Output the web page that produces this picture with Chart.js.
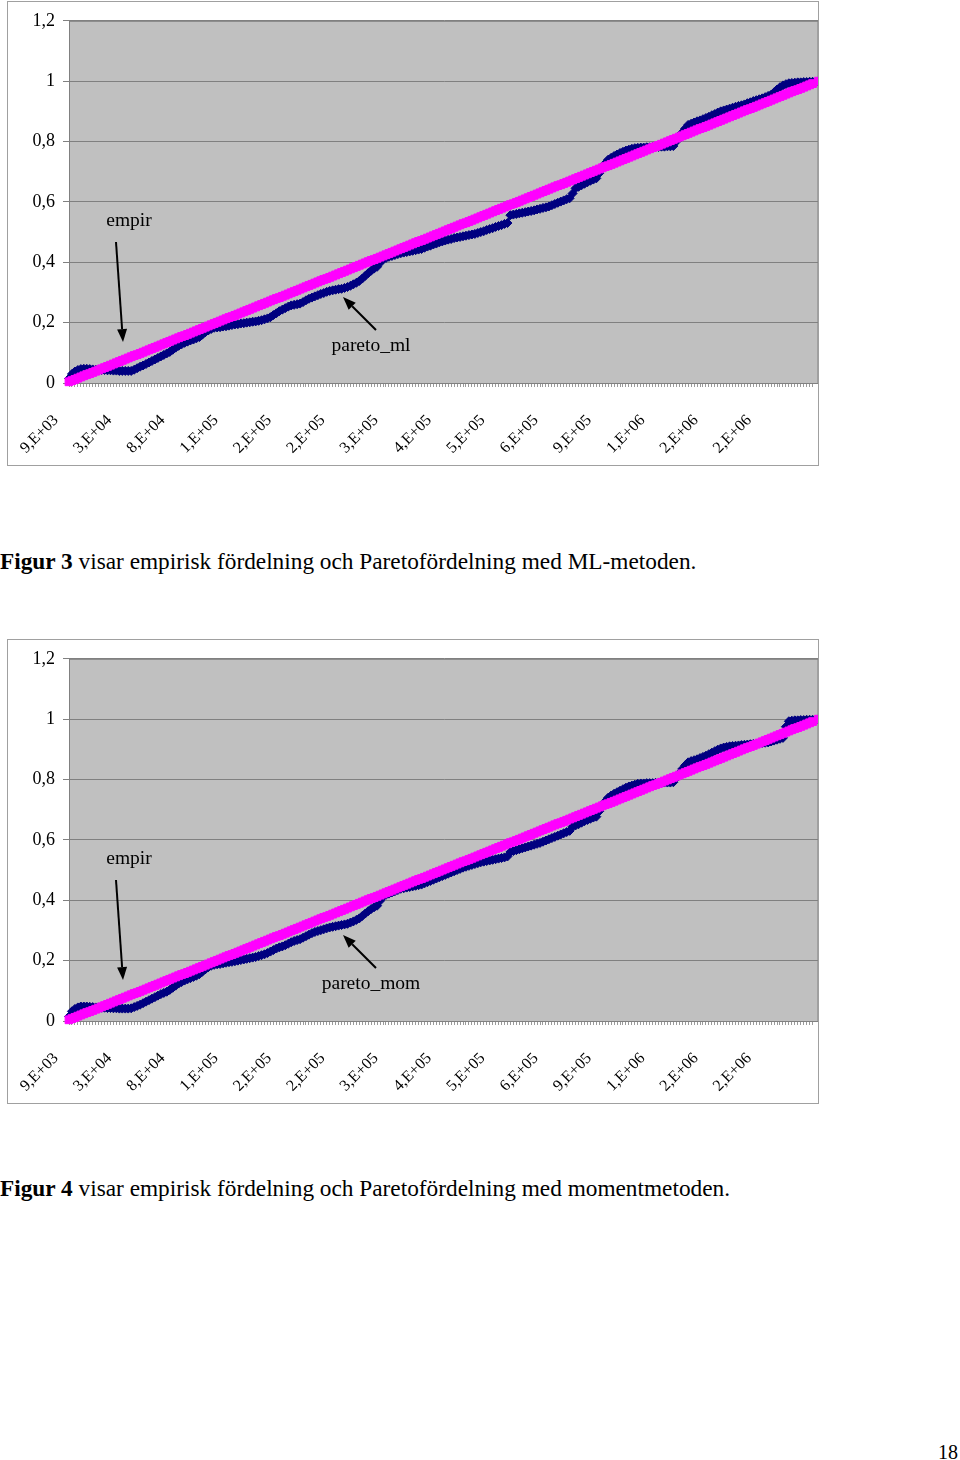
<!DOCTYPE html>
<html>
<head>
<meta charset="utf-8">
<script src="https://cdn.jsdelivr.net/npm/chart.js@4.4.0/dist/chart.umd.min.js"></script>
<style>
body { margin: 0; background: #fff; width: 960px; height: 1460px; position: relative; overflow: hidden;
       font-family: "Liberation Serif", "Times New Roman", serif; }
.frame { position: absolute; left: 7px; width: 810px; height: 463px; border: 1px solid #a0a0a0; overflow: hidden; }
.frame canvas { display: block; }
.caption { position: absolute; left: 0; font-size: 23.3px; white-space: nowrap; line-height: 26px; }
.pageno { position: absolute; left: 938px; top: 1440px; font-size: 20px; line-height: 24px; }
</style>
</head>
<body>
<div class="frame" style="top:1px"><canvas id="chart1" width="817" height="463"></canvas></div>
<div class="caption" style="top:548px"><b>Figur 3</b> visar empirisk fördelning och Paretofördelning med ML-metoden.</div>
<div class="frame" style="top:639px"><canvas id="chart2" width="817" height="463"></canvas></div>
<div class="caption" style="top:1175px"><b>Figur 4</b> visar empirisk fördelning och Paretofördelning med momentmetoden.</div>
<div class="pageno">18</div>
<script>
// category axis: 254 sorted observations, a label every 18th
const xTickLabels = ['9,E+03', '3,E+04', '8,E+04', '1,E+05', '2,E+05', '2,E+05', '3,E+05',
                     '4,E+05', '5,E+05', '6,E+05', '9,E+05', '1,E+06', '2,E+06', '2,E+06'];
const labelStep = 18;
const yTickLabels = ['0', '0,2', '0,4', '0,6', '0,8', '1', '1,2'];

// empirical distribution (pink)
const empir = [
  0.004, 0.008, 0.012, 0.016, 0.020, 0.024, 0.028, 0.031, 0.035, 0.039,
  0.043, 0.047, 0.051, 0.055, 0.059, 0.063, 0.067, 0.071, 0.075, 0.079,
  0.083, 0.087, 0.091, 0.094, 0.098, 0.102, 0.106, 0.110, 0.114, 0.118,
  0.122, 0.126, 0.130, 0.134, 0.138, 0.142, 0.146, 0.150, 0.154, 0.157,
  0.161, 0.165, 0.169, 0.173, 0.177, 0.181, 0.185, 0.189, 0.193, 0.197,
  0.201, 0.205, 0.209, 0.213, 0.217, 0.220, 0.224, 0.228, 0.232, 0.236,
  0.240, 0.244, 0.248, 0.252, 0.256, 0.260, 0.264, 0.268, 0.272, 0.276,
  0.280, 0.283, 0.287, 0.291, 0.295, 0.299, 0.303, 0.307, 0.311, 0.315,
  0.319, 0.323, 0.327, 0.331, 0.335, 0.339, 0.343, 0.346, 0.350, 0.354,
  0.358, 0.362, 0.366, 0.370, 0.374, 0.378, 0.382, 0.386, 0.390, 0.394,
  0.398, 0.402, 0.406, 0.409, 0.413, 0.417, 0.421, 0.425, 0.429, 0.433,
  0.437, 0.441, 0.445, 0.449, 0.453, 0.457, 0.461, 0.465, 0.469, 0.472,
  0.476, 0.480, 0.484, 0.488, 0.492, 0.496, 0.500, 0.504, 0.508, 0.512,
  0.516, 0.520, 0.524, 0.528, 0.531, 0.535, 0.539, 0.543, 0.547, 0.551,
  0.555, 0.559, 0.563, 0.567, 0.571, 0.575, 0.579, 0.583, 0.587, 0.591,
  0.594, 0.598, 0.602, 0.606, 0.610, 0.614, 0.618, 0.622, 0.626, 0.630,
  0.634, 0.638, 0.642, 0.646, 0.650, 0.654, 0.657, 0.661, 0.665, 0.669,
  0.673, 0.677, 0.681, 0.685, 0.689, 0.693, 0.697, 0.701, 0.705, 0.709,
  0.713, 0.717, 0.720, 0.724, 0.728, 0.732, 0.736, 0.740, 0.744, 0.748,
  0.752, 0.756, 0.760, 0.764, 0.768, 0.772, 0.776, 0.780, 0.783, 0.787,
  0.791, 0.795, 0.799, 0.803, 0.807, 0.811, 0.815, 0.819, 0.823, 0.827,
  0.831, 0.835, 0.839, 0.843, 0.846, 0.850, 0.854, 0.858, 0.862, 0.866,
  0.870, 0.874, 0.878, 0.882, 0.886, 0.890, 0.894, 0.898, 0.902, 0.906,
  0.909, 0.913, 0.917, 0.921, 0.925, 0.929, 0.933, 0.937, 0.941, 0.945,
  0.949, 0.953, 0.957, 0.961, 0.965, 0.969, 0.972, 0.976, 0.980, 0.984,
  0.988, 0.992, 0.996, 1.000
];

// Pareto fitted with ML (dark blue, figure 3)
const paretoMl = [
  0.015, 0.030, 0.038, 0.043, 0.046, 0.047, 0.047, 0.046, 0.045, 0.044,
  0.044, 0.043, 0.043, 0.042, 0.042, 0.041, 0.041, 0.040, 0.040, 0.040,
  0.040, 0.040, 0.044, 0.049, 0.054, 0.058, 0.063, 0.068, 0.073, 0.078,
  0.083, 0.088, 0.093, 0.098, 0.103, 0.110, 0.117, 0.123, 0.128, 0.133,
  0.137, 0.141, 0.144, 0.148, 0.152, 0.160, 0.168, 0.174, 0.179, 0.183,
  0.184, 0.185, 0.187, 0.188, 0.190, 0.192, 0.194, 0.195, 0.197, 0.198,
  0.200, 0.201, 0.203, 0.204, 0.206, 0.208, 0.211, 0.214, 0.218, 0.225,
  0.231, 0.238, 0.243, 0.248, 0.253, 0.257, 0.259, 0.261, 0.263, 0.268,
  0.274, 0.279, 0.283, 0.287, 0.291, 0.295, 0.298, 0.302, 0.305, 0.307,
  0.309, 0.311, 0.312, 0.315, 0.318, 0.322, 0.327, 0.332, 0.338, 0.346,
  0.355, 0.364, 0.372, 0.379, 0.385, 0.398, 0.410, 0.414, 0.418, 0.421,
  0.424, 0.427, 0.430, 0.432, 0.434, 0.436, 0.438, 0.440, 0.442, 0.444,
  0.448, 0.452, 0.455, 0.459, 0.462, 0.466, 0.469, 0.472, 0.475, 0.477,
  0.480, 0.482, 0.484, 0.486, 0.488, 0.490, 0.492, 0.494, 0.497, 0.500,
  0.503, 0.507, 0.510, 0.513, 0.517, 0.520, 0.523, 0.527, 0.530, 0.556,
  0.558, 0.560, 0.562, 0.564, 0.566, 0.568, 0.570, 0.572, 0.575, 0.577,
  0.580, 0.582, 0.585, 0.589, 0.593, 0.597, 0.601, 0.605, 0.609, 0.612,
  0.628, 0.645, 0.650, 0.655, 0.660, 0.665, 0.670, 0.674, 0.678, 0.695,
  0.712, 0.728, 0.740, 0.746, 0.752, 0.757, 0.762, 0.766, 0.770, 0.773,
  0.776, 0.778, 0.779, 0.780, 0.780, 0.781, 0.781, 0.782, 0.782, 0.782,
  0.783, 0.783, 0.784, 0.784, 0.785, 0.800, 0.815, 0.830, 0.843, 0.855,
  0.859, 0.863, 0.867, 0.870, 0.874, 0.878, 0.882, 0.887, 0.891, 0.896,
  0.900, 0.903, 0.906, 0.909, 0.912, 0.915, 0.918, 0.920, 0.923, 0.927,
  0.930, 0.934, 0.937, 0.940, 0.943, 0.947, 0.951, 0.955, 0.963, 0.972,
  0.980, 0.986, 0.990, 0.993, 0.994, 0.995, 0.996, 0.996, 0.997, 0.997,
  0.998, 0.998, 0.999, 0.999
];

// Pareto fitted with moments (dark blue, figure 4)
const paretoMom = [
  0.015, 0.032, 0.040, 0.045, 0.048, 0.048, 0.048, 0.047, 0.046, 0.045,
  0.045, 0.044, 0.044, 0.043, 0.043, 0.042, 0.042, 0.041, 0.041, 0.041,
  0.041, 0.042, 0.046, 0.050, 0.054, 0.059, 0.064, 0.069, 0.074, 0.079,
  0.084, 0.089, 0.093, 0.097, 0.103, 0.110, 0.117, 0.124, 0.129, 0.134,
  0.138, 0.142, 0.146, 0.150, 0.155, 0.163, 0.171, 0.178, 0.183, 0.186,
  0.188, 0.189, 0.191, 0.193, 0.195, 0.196, 0.198, 0.200, 0.202, 0.204,
  0.206, 0.208, 0.210, 0.212, 0.215, 0.218, 0.221, 0.225, 0.230, 0.235,
  0.240, 0.244, 0.247, 0.251, 0.256, 0.261, 0.265, 0.268, 0.271, 0.276,
  0.281, 0.286, 0.291, 0.295, 0.298, 0.301, 0.304, 0.307, 0.310, 0.312,
  0.314, 0.316, 0.318, 0.320, 0.322, 0.326, 0.330, 0.335, 0.340, 0.348,
  0.356, 0.364, 0.371, 0.377, 0.382, 0.398, 0.412, 0.418, 0.422, 0.426,
  0.430, 0.434, 0.438, 0.440, 0.442, 0.444, 0.446, 0.448, 0.450, 0.452,
  0.456, 0.460, 0.464, 0.468, 0.472, 0.476, 0.480, 0.484, 0.488, 0.492,
  0.496, 0.500, 0.504, 0.508, 0.511, 0.514, 0.517, 0.520, 0.523, 0.526,
  0.528, 0.530, 0.532, 0.534, 0.536, 0.538, 0.540, 0.542, 0.545, 0.560,
  0.563, 0.566, 0.569, 0.572, 0.575, 0.578, 0.581, 0.584, 0.587, 0.590,
  0.594, 0.598, 0.602, 0.606, 0.610, 0.614, 0.618, 0.622, 0.626, 0.630,
  0.644, 0.648, 0.652, 0.657, 0.662, 0.666, 0.670, 0.674, 0.677, 0.695,
  0.712, 0.728, 0.740, 0.747, 0.753, 0.758, 0.763, 0.768, 0.773, 0.777,
  0.780, 0.783, 0.786, 0.787, 0.787, 0.788, 0.788, 0.788, 0.789, 0.789,
  0.789, 0.790, 0.790, 0.790, 0.791, 0.805, 0.820, 0.835, 0.847, 0.857,
  0.861, 0.864, 0.867, 0.871, 0.875, 0.879, 0.884, 0.889, 0.894, 0.899,
  0.903, 0.906, 0.908, 0.910, 0.911, 0.912, 0.913, 0.914, 0.915, 0.916,
  0.917, 0.918, 0.919, 0.920, 0.921, 0.922, 0.923, 0.926, 0.929, 0.932,
  0.935, 0.938, 0.975, 0.993, 0.995, 0.996, 0.996, 0.997, 0.997, 0.998,
  0.998, 0.998, 0.999, 0.999
];

const categories = empir.map((_, i) => i % labelStep === 0 ? xTickLabels[i / labelStep] : '');

const serif = '"Liberation Serif", "Times New Roman", serif';

// grey plot area with a thin border, like the old Excel charts
const plotBackground = {
    id: 'plotBackground',
    beforeDraw(chart) {
        const { ctx, chartArea: a } = chart;
        ctx.save();
        ctx.fillStyle = '#c0c0c0';
        ctx.fillRect(a.left, a.top, a.right - a.left, a.bottom - a.top);
        ctx.restore();
    },
    beforeDatasetsDraw(chart) {
        const { ctx, chartArea: a } = chart;
        ctx.save();
        ctx.strokeStyle = '#808080';
        ctx.lineWidth = 1;
        ctx.strokeRect(a.left + 0.5, a.top + 0.5, a.right - a.left - 1, a.bottom - a.top);
        ctx.restore();
    }
};

function drawArrow(ctx, x1, y1, x2, y2) {
    const ang = Math.atan2(y2 - y1, x2 - x1);
    const len = 13, half = 5;
    const bx = x2 - Math.cos(ang) * len, by = y2 - Math.sin(ang) * len;
    ctx.beginPath();
    ctx.moveTo(x1, y1);
    ctx.lineTo(bx, by);
    ctx.stroke();
    ctx.beginPath();
    ctx.moveTo(x2, y2);
    ctx.lineTo(bx + Math.sin(ang) * half, by - Math.cos(ang) * half);
    ctx.lineTo(bx - Math.sin(ang) * half, by + Math.cos(ang) * half);
    ctx.closePath();
    ctx.fill();
}

// text boxes and arrows pointing at the series
const callouts = {
    id: 'callouts',
    afterDatasetsDraw(chart, args, opts) {
        const ctx = chart.ctx;
        ctx.save();
        ctx.fillStyle = '#000';
        ctx.strokeStyle = '#000';
        ctx.lineWidth = 2;
        ctx.font = '19.5px ' + serif;
        ctx.textAlign = 'center';
        ctx.textBaseline = 'middle';
        opts.labels.forEach(l => ctx.fillText(l.text, l.x, l.y));
        opts.arrows.forEach(a => drawArrow(ctx, a[0], a[1], a[2], a[3]));
        ctx.restore();
    }
};

function makeChart(id, paretoName, paretoData) {
    const ctx = document.getElementById(id).getContext('2d');
    return new Chart(ctx, {
        type: 'line',
        data: {
            labels: categories,
            datasets: [{
                label: 'empir',
                data: empir,
                borderColor: '#ff00ff',
                backgroundColor: '#ff00ff',
                borderWidth: 2,
                pointStyle: 'rect',
                pointRadius: 5.5,
                pointBorderWidth: 1,
                clip: false
            }, {
                label: paretoName,
                data: paretoData,
                borderColor: '#000080',
                backgroundColor: '#000080',
                borderWidth: 2,
                pointStyle: 'rectRot',
                pointRadius: 4.5,
                pointBorderWidth: 1,
                clip: false
            }]
        },
        options: {
            responsive: false,
            animation: false,
            events: [],
            layout: { padding: { top: 16, right: 0, left: 0, bottom: 0 } },
            plugins: {
                legend: { display: false },
                tooltip: { enabled: false },
                callouts: {
                    labels: [
                        { text: 'empir', x: 121, y: 219 },
                        { text: paretoName, x: 363, y: 344 }
                    ],
                    arrows: [
                        [108, 240, 115, 340],
                        [368, 328, 335, 295]
                    ]
                }
            },
            scales: {
                x: {
                    offset: false,
                    afterFit: s => { s.height = 82; s.paddingLeft = 0; s.paddingRight = 0; },
                    grid: { drawOnChartArea: false, tickLength: 4, color: '#9a9a9a' },
                    border: { color: '#808080' },
                    ticks: {
                        autoSkip: false,
                        minRotation: 45,
                        maxRotation: 45,
                        padding: 24,
                        labelOffset: -13,
                        color: '#000',
                        font: { family: serif, size: 16 }
                    }
                },
                y: {
                    min: 0,
                    max: 1.2,
                    afterFit: s => { s.width = 61; },
                    grid: { color: '#808080', tickLength: 6 },
                    border: { color: '#808080' },
                    ticks: {
                        stepSize: 0.2,
                        padding: 8,
                        color: '#000',
                        font: { family: serif, size: 18 },
                        callback: (v, i) => yTickLabels[i]
                    }
                }
            }
        },
        plugins: [plotBackground, callouts]
    });
}

makeChart('chart1', 'pareto_ml', paretoMl);
makeChart('chart2', 'pareto_mom', paretoMom);
</script>
</body>
</html>
